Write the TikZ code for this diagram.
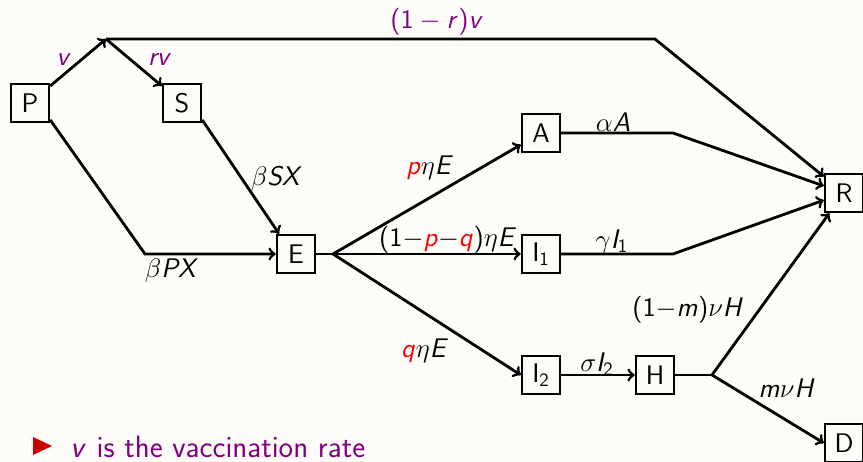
\RequirePackage{fix-cm}
\documentclass[tikz,border=0pt]{standalone}
\usepackage{xcolor}
\usepackage{tikz}
% sans letters in formulas, Greek stays in CM math italic
\DeclareSymbolFont{sfletters}{OT1}{cmss}{m}{sl}
\SetSymbolFont{operators}{normal}{OT1}{cmss}{m}{n}
\DeclareMathSymbol{v}{\mathalpha}{sfletters}{`v}
\DeclareMathSymbol{r}{\mathalpha}{sfletters}{`r}
\DeclareMathSymbol{p}{\mathalpha}{sfletters}{`p}
\DeclareMathSymbol{q}{\mathalpha}{sfletters}{`q}
\DeclareMathSymbol{m}{\mathalpha}{sfletters}{`m}
\DeclareMathSymbol{S}{\mathalpha}{sfletters}{`S}
\DeclareMathSymbol{X}{\mathalpha}{sfletters}{`X}
\DeclareMathSymbol{P}{\mathalpha}{sfletters}{`P}
\DeclareMathSymbol{E}{\mathalpha}{sfletters}{`E}
\DeclareMathSymbol{A}{\mathalpha}{sfletters}{`A}
\DeclareMathSymbol{I}{\mathalpha}{sfletters}{`I}
\DeclareMathSymbol{H}{\mathalpha}{sfletters}{`H}
\definecolor{vacc}{RGB}{128,0,128}
\definecolor{prob}{RGB}{255,0,0}
\definecolor{itemred}{RGB}{204,0,0}
\definecolor{slidebg}{RGB}{253,252,248}

\begin{document}
\begin{tikzpicture}[x=0.02cm, y=-0.02cm, font=\sffamily\fontsize{15.3}{18}\selectfont,
  comp/.style={draw, rectangle, line width=1.4pt, minimum size=0.76cm, inner sep=0pt},
  flow/.style={line width=1.6pt},
  rate/.style={inner sep=0pt}]
\fill[slidebg] (0,0) rectangle (863,462);
\useasboundingbox (0,0) rectangle (863,462);

% compartments
\node[comp] (p) at (30,103) {P};
\node[comp] (s) at (182,103) {S};
\node[comp] (e) at (296,254) {E};
\node[comp] (a) at (541,133) {A};
\node[comp] (i1) at (541,254) {I$_1$};
\node[comp] (i2) at (541,375) {I$_2$};
\node[comp] (h) at (655,375) {H};
\node[comp] (r) at (844,193) {R};
\node[comp] (d) at (844,443) {D};

% branch points
\coordinate (j1) at (106,39);
\coordinate (k1) at (655,39);
\coordinate (c2) at (145,254);
\coordinate (j2) at (333,254);
\coordinate (ka) at (673,133);
\coordinate (ki) at (673,254);
\coordinate (j3) at (712,375);

% vaccination
\draw[flow, ->] (p) -- (j1);
\draw[flow, ->] (j1) -- (s);
\draw[flow, ->] (j1) -- (k1) -- (r);

% infection
\draw[flow, ->] (s.-40) -- (e.130);
\draw[flow, ->] (p.-40) -- (c2) -- (e);

% progression
\draw[flow] (e.east) -- (j2);
\draw[flow, ->] (j2) -- (a);
\draw[flow, ->] (j2) -- (i1);
\draw[flow, ->] (j2) -- (i2.west);
\draw[flow, ->] (a) -- (ka) -- (r);
\draw[flow, ->] (i1) -- (ki) -- (r);
\draw[flow, ->] (i2) -- (h);
\draw[flow] (h.east) -- (j3);
\draw[flow, ->] (j3) -- (r);
\draw[flow, ->] (j3) -- (d.west);

% rates
\node[rate, text=vacc] (lv) at (64,60) {$v$};
\node[rate, text=vacc] (lrv) at (160,60) {$rv$};
\node[rate, text=vacc] (lnov) at (437,22) {$(1-r)v$};
\node[rate] (lbsx) at (277,179) {$\beta SX$};
\node[rate] (lbpx) at (172,271) {$\beta PX$};
\node[rate] (lpe) at (430,168) {${\color{prob}p}\eta E$};
\node[rate] (lpqe) at (448,240) {$(1{-}{\color{prob}p}{-}{\color{prob}q})\eta E$};
\node[rate] (lqe) at (425,351) {${\color{prob}q}\eta E$};
\node[rate] (laa) at (613,122) {$\alpha A$};
\node[rate] (lgi) at (612,242) {$\gamma I_1$};
\node[rate] (lsi) at (597,364) {$\sigma I_2$};
\node[rate] (lrec) at (688,310) {$(1{-}m)\nu H$};
\node[rate] (ldie) at (787,388) {$m\nu H$};

% note
\fill[itemred] (33,437) -- (52,446) -- (33,455) -- cycle;
\node[rate, anchor=west, text=vacc, font=\sffamily\fontsize{17.6}{21}\selectfont] (note) at (70,447) {$v$ is the vaccination rate};
\end{tikzpicture}
\end{document}
